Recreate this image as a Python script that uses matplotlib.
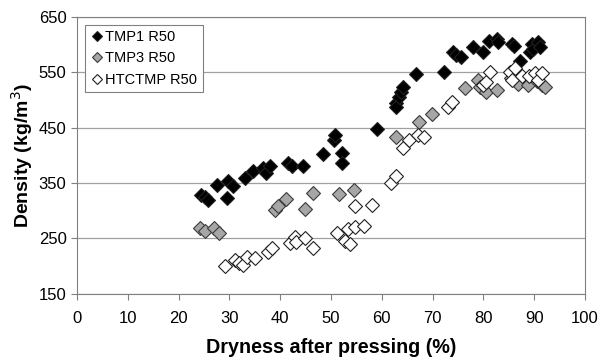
import matplotlib
import matplotlib.pyplot as plt

matplotlib.use('Agg')
plt.rcParams['font.family'] = ['Liberation Sans', 'DejaVu Sans']

tmp1_x = [24.5, 25.2, 25.8, 27.5, 29.5, 29.8, 30.8, 33.1, 34.7, 36.7, 37.3, 38.0,
          41.6, 42.3, 44.5, 48.5, 50.5, 50.8, 52.1, 52.1, 59.0, 62.8, 62.9, 63.3,
          63.7, 64.2, 66.7, 72.3, 74.1, 74.6, 75.6, 77.9, 79.9, 81.2, 82.6, 82.9,
          85.6, 86.0, 87.3, 89.2, 89.5, 89.8, 90.8, 91.1]
tmp1_y = [329, 325, 320, 347, 323, 353, 344, 359, 371, 377, 368, 380,
          386, 380, 380, 403, 428, 437, 405, 386, 447, 494, 487, 506,
          515, 523, 547, 550, 586, 581, 578, 596, 586, 607, 611, 604,
          602, 598, 571, 587, 602, 593, 605, 596]

tmp3_x = [24.2, 25.2, 27.0, 28.0, 39.0, 39.6, 41.1, 44.9, 46.5, 51.6, 54.5,
          62.9, 67.3, 69.9, 76.4, 79.0, 79.3, 80.6, 82.7, 85.5, 86.9, 88.8,
          90.5, 91.5, 92.1]
tmp3_y = [269, 263, 269, 260, 302, 308, 321, 303, 332, 330, 338,
          434, 460, 475, 521, 536, 523, 515, 518, 540, 529, 527,
          535, 527, 523]

htc_x = [29.1, 31.1, 31.8, 32.7, 33.4, 35.0, 37.7, 38.3, 41.9, 42.9, 43.2,
         44.9, 46.5, 51.1, 52.8, 53.4, 53.7, 54.7, 54.7, 56.6, 58.0, 61.9,
         62.9, 64.2, 65.4, 67.2, 68.4, 73.1, 73.8, 80.0, 80.6, 81.3, 85.2,
         85.6, 86.2, 87.7, 89.0, 90.1, 90.8, 91.5]
htc_y = [200, 211, 205, 202, 217, 214, 226, 232, 241, 253, 244,
         250, 232, 260, 246, 267, 240, 308, 271, 273, 311, 351,
         363, 414, 428, 437, 433, 488, 497, 528, 533, 550, 551,
         536, 557, 543, 543, 548, 536, 548]

fig = plt.figure(figsize=(6.08, 3.61), dpi=100)
ax = fig.add_axes([0.1266, 0.186, 0.8355, 0.767])

ax.plot(tmp1_x, tmp1_y, 'D', ms=6.8, mfc='black', mec='#202020', mew=0.8,
        label='TMP1 R50', zorder=3)
ax.plot(tmp3_x, tmp3_y, 'D', ms=6.8, mfc='#a6a6a6', mec='#3a3a3a', mew=0.8,
        label='TMP3 R50', zorder=3)
ax.plot(htc_x, htc_y, 'D', ms=6.8, mfc='white', mec='#202020', mew=0.8,
        label='HTCTMP R50', zorder=3)

ax.set_xlim(0, 100)
ax.set_ylim(150, 650)
ax.set_xticks(range(0, 101, 10))
ax.set_yticks(range(150, 651, 100))
ax.grid(axis='y', color='#a0a0a0', lw=0.9)
ax.set_axisbelow(True)
for s in ax.spines.values():
    s.set_color('#808080')
ax.tick_params(colors='#808080', labelcolor='black', labelsize=12, length=4)
ax.tick_params(axis='x', pad=8)

ax.set_xlabel('Dryness after pressing (%)', fontsize=14.2, fontweight='bold', labelpad=9)
ax.set_ylabel('Density (kg/m$^3$)', fontsize=14, fontweight='bold', labelpad=3)

leg = ax.legend(loc='upper left', fontsize=10.5, handletextpad=0.05, handlelength=1.0,
                borderpad=0.35, labelspacing=0.5, fancybox=False, framealpha=1,
                markerscale=0.75, borderaxespad=0.55)
leg.get_frame().set_edgecolor('#808080')
leg.get_frame().set_linewidth(0.8)

fig.savefig('out.png', dpi=100)
